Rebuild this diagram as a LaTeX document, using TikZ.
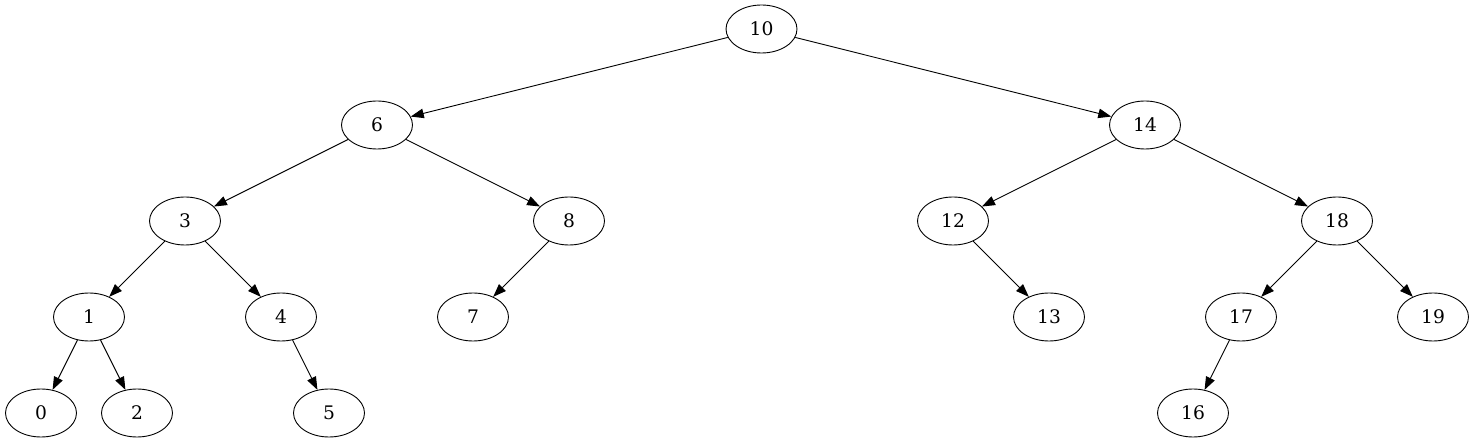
\documentclass[tikz,border=0pt]{standalone}
\usepackage{fontspec}
\setmainfont{DejaVu Serif}
\usetikzlibrary{arrows.meta,shapes.geometric}
\begin{document}
\begin{tikzpicture}[x=1pt,y=-1pt,
  tn/.style={draw,ellipse,line width=0.9pt,minimum width=71pt,minimum height=48pt,inner sep=0pt,font=\fontsize{18.67}{20}\selectfont},
  ed/.style={line width=0.9pt,-{Triangle[length=13pt,width=9.5pt]}}]
\useasboundingbox (0,0) rectangle (1475,443);
\node[tn] (n10) at (761.5,29) {10};
\node[tn] (n6) at (377,125) {6};
\node[tn] (n14) at (1145,125) {14};
\node[tn] (n3) at (185,221) {3};
\node[tn] (n8) at (569,221) {8};
\node[tn] (n12) at (953,221) {12};
\node[tn] (n18) at (1337,221) {18};
\node[tn] (n1) at (89,317) {1};
\node[tn] (n4) at (281,317) {4};
\node[tn] (n7) at (473,317) {7};
\node[tn] (n13) at (1049,317) {13};
\node[tn] (n17) at (1241,317) {17};
\node[tn] (n19) at (1433,317) {19};
\node[tn] (n0) at (41,413) {0};
\node[tn] (n2) at (137,413) {2};
\node[tn] (n5) at (329,413) {5};
\node[tn] (n16) at (1193,413) {16};
\draw[ed] (n10) -- (n6);
\draw[ed] (n10) -- (n14);
\draw[ed] (n6) -- (n3);
\draw[ed] (n6) -- (n8);
\draw[ed] (n14) -- (n12);
\draw[ed] (n14) -- (n18);
\draw[ed] (n3) -- (n1);
\draw[ed] (n3) -- (n4);
\draw[ed] (n8) -- (n7);
\draw[ed] (n12) -- (n13);
\draw[ed] (n18) -- (n17);
\draw[ed] (n18) -- (n19);
\draw[ed] (n1) -- (n0);
\draw[ed] (n1) -- (n2);
\draw[ed] (n4) -- (n5);
\draw[ed] (n17) -- (n16);
\end{tikzpicture}
\end{document}
